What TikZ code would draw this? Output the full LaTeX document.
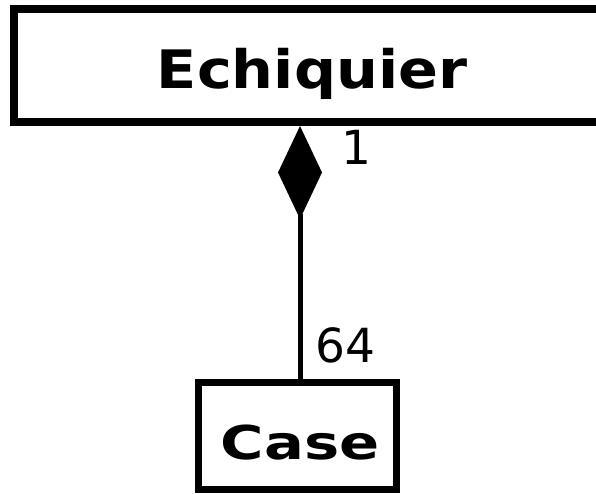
\documentclass[tikz,border=0pt]{standalone}
\usepackage{fontspec}
\setmainfont{DejaVu Sans}
\usetikzlibrary{arrows.meta,calc}
\tikzset{
  classbox/.style={draw=black, fill=white, rectangle, inner sep=0pt},
  mult/.style={inner sep=0pt, anchor=base west, font=\fontsize{47pt}{50pt}\selectfont},
  compo/.style={draw=black, line width=5pt, -{Diamond[length=93pt,width=44pt,line width=0pt]}},
}
\begin{document}
\begin{tikzpicture}[x=1pt,y=1pt]
\useasboundingbox (0,0) rectangle (596,-494);
\node[classbox, line width=8pt, minimum width=596pt, minimum height=113pt,
      text height=46.6pt, text depth=0pt,
      font=\fontsize{53pt}{56pt}\selectfont\bfseries] (ech) at (312,-65.5)
      {\scalebox{1.11}[1]{Echiquier}};
\node[classbox, line width=7pt, minimum width=198pt, minimum height=107pt,
      text height=47.5pt, text depth=0pt,
      font=\fontsize{46.6pt}{50pt}\selectfont\bfseries] (case) at (297.5,-436)
      {\hspace*{5pt}\scalebox{1.27}[1]{Case}};
\draw[compo] ($(case.north)+(2.5pt,0)$) -- ($(case.north |- ech.south)+(2.5pt,0)$);
\node[mult] (m1) at (341,-165) {1};
\node[mult] (m64) at (315,-362) {64};
\end{tikzpicture}
\end{document}
